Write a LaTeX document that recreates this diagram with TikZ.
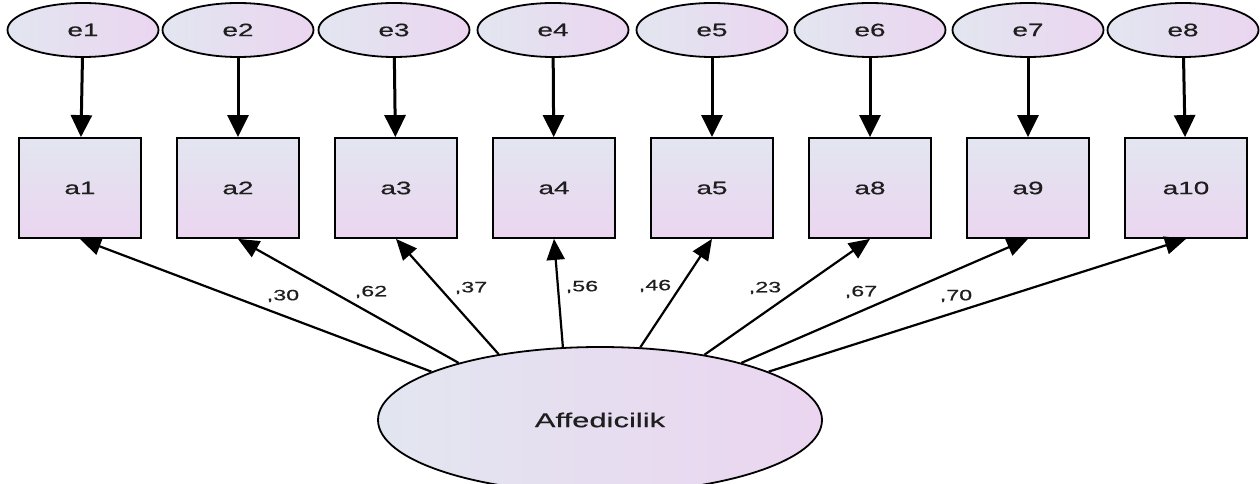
\documentclass[tikz,border=0pt]{standalone}
\usepackage{fontspec}
\usepackage{tikz}
\usetikzlibrary{shapes.geometric,arrows.meta}
\newfontfamily\amosfont[FakeStretch=1.55,FakeBold=0.5]{Liberation Sans}
\definecolor{amosblue}{RGB}{226,230,240}
\definecolor{amospink}{RGB}{235,213,240}
\definecolor{amostext}{RGB}{30,30,30}
\tikzset{
  err/.style={ellipse, draw, line width=1.8pt, inner sep=0pt,
    minimum width=151pt, minimum height=54pt,
    left color=amosblue, right color=amospink, text=amostext,
    font=\amosfont\fontsize{18}{20}\selectfont},
  obs/.style={rectangle, draw, line width=1.8pt, inner sep=0pt,
    minimum width=122pt, minimum height=100pt,
    top color=amosblue, bottom color=amospink, text=amostext,
    font=\amosfont\fontsize{18}{20}\selectfont},
  lat/.style={ellipse, draw, line width=1.8pt, inner sep=0pt,
    minimum width=444pt, minimum height=146pt,
    left color=amosblue, right color=amospink, text=amostext,
    font=\amosfont\fontsize{20}{22}\selectfont},
  arr/.style={line width=3pt, -{Triangle[length=22pt,width=21pt]}},
  load/.style={line width=2.2pt, -{Triangle[length=21pt,width=18pt]}},
  wt/.style={text=amostext, inner sep=0pt, font=\amosfont\fontsize{15}{17}\selectfont}
}

\begin{document}
\begin{tikzpicture}[x=1pt, y=-1pt]
\clip (0, 0) rectangle (1260, 484);

% error terms
\node[err] (e1) at (83, 30) {e1};
\node[err] (e2) at (238, 30) {e2};
\node[err] (e3) at (394, 30) {e3};
\node[err] (e4) at (553, 30) {e4};
\node[err] (e5) at (712, 30) {e5};
\node[err] (e6) at (870, 30) {e6};
\node[err] (e7) at (1028, 30) {e7};
\node[err] (e8) at (1183, 30) {e8};

% observed items
\node[obs] (a1) at (80, 188) {a1};
\node[obs] (a2) at (238, 188) {a2};
\node[obs] (a3) at (396, 188) {a3};
\node[obs] (a4) at (554, 188) {a4};
\node[obs] (a5) at (712, 188) {a5};
\node[obs] (a8) at (870, 188) {a8};
\node[obs] (a9) at (1028, 188) {a9};
\node[obs] (a10) at (1186, 188) {a10};

% latent factor
\node[lat] (F) at (600, 420) {Affedicilik};

\draw[arr] (e1) -- (a1);
\draw[arr] (e2) -- (a2);
\draw[arr] (e3) -- (a3);
\draw[arr] (e4) -- (a4);
\draw[arr] (e5) -- (a5);
\draw[arr] (e6) -- (a8);
\draw[arr] (e7) -- (a9);
\draw[arr] (e8) -- (a10);

\draw[load] (F.164) -- (a1.south);
\draw[load] (F.158) -- (a2.south);
\draw[load] (F.147) -- (a3.south);
\draw[load] (F.117) -- (a4.south);
\draw[load] (F.61) -- (a5.south);
\draw[load] (F.32) -- (a8.south);
\draw[load] (F.22) -- (a9.south);
\draw[load] (F.16) -- (a10.south);

% loadings
\node[wt] (w1) at (283, 296) {,30};
\node[wt] (w2) at (371, 292) {,62};
\node[wt] (w3) at (471, 288) {,37};
\node[wt] (w4) at (582, 287) {,56};
\node[wt] (w5) at (655, 286) {,46};
\node[wt] (w8) at (765, 288) {,23};
\node[wt] (w9) at (861, 292) {,67};
\node[wt] (w10) at (956, 296) {,70};
\end{tikzpicture}
\end{document}
